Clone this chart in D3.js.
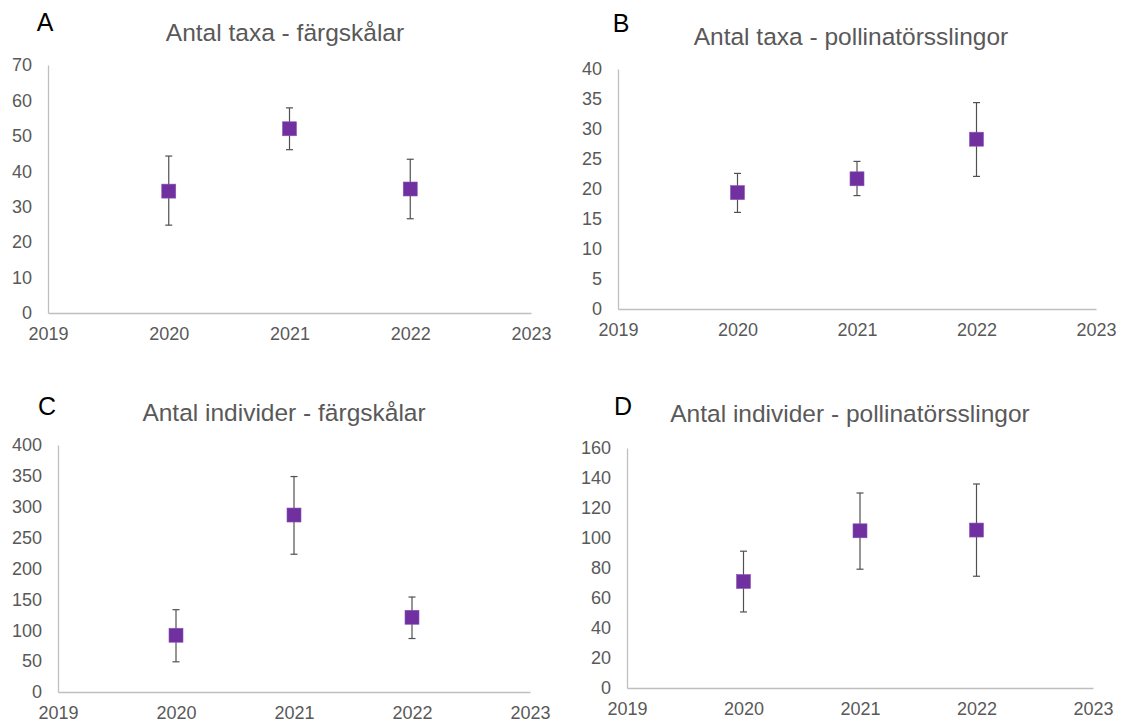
<!DOCTYPE html>
<html>
<head>
<meta charset="utf-8">
<script src="https://cdn.jsdelivr.net/npm/d3@7"></script>
<style>
  html, body { margin: 0; padding: 0; background: #fff; }
  svg { display: block; font-family: "Liberation Sans", Arial, sans-serif; }
</style>
</head>
<body>
<svg id="chart" width="1122" height="725"></svg>
<script>
// ---- data ----
const years = [2020, 2021, 2022];
const xTicks = [2019, 2020, 2021, 2022, 2023];

const taxaBowlsMean = [34.4, 52.0, 35.0];
const taxaBowlsLow  = [24.8, 46.1, 26.6];
const taxaBowlsHigh = [44.3, 57.9, 43.4];
const taxaBowlsTicks = [0, 10, 20, 30, 40, 50, 60, 70];

const taxaTransectMean = [19.4, 21.7, 28.3];
const taxaTransectLow  = [16.1, 18.9, 22.1];
const taxaTransectHigh = [22.6, 24.6, 34.4];
const taxaTransectTicks = [0, 5, 10, 15, 20, 25, 30, 35, 40];

const indBowlsMean = [91.9, 286.6, 121.0];
const indBowlsLow  = [48.9, 223.1, 86.6];
const indBowlsHigh = [133.3, 348.9, 153.8];
const indBowlsTicks = [0, 50, 100, 150, 200, 250, 300, 350, 400];

const indTransectMean = [71.0, 104.8, 105.3];
const indTransectLow  = [50.7, 79.2, 74.5];
const indTransectHigh = [91.2, 130.0, 136.0];
const indTransectTicks = [0, 20, 40, 60, 80, 100, 120, 140, 160];

const panelLetters = ["A", "B", "C", "D"];
const panelTitles = [
  "Antal taxa - färgskålar",
  "Antal taxa - pollinatörsslingor",
  "Antal individer - färgskålar",
  "Antal individer - pollinatörsslingor"
];

// ---- layout ----
const panels = [
  { letter: panelLetters[0], title: panelTitles[0], mean: taxaBowlsMean, low: taxaBowlsLow, high: taxaBowlsHigh, ticks: taxaBowlsTicks,
    box: { l: 48, r: 531, t: 65, b: 313 }, titlePos: [285, 32], letterPos: [45, 22] },
  { letter: panelLetters[1], title: panelTitles[1], mean: taxaTransectMean, low: taxaTransectLow, high: taxaTransectHigh, ticks: taxaTransectTicks,
    box: { l: 618, r: 1096, t: 69, b: 309 }, titlePos: [851, 36], letterPos: [621, 23] },
  { letter: panelLetters[2], title: panelTitles[2], mean: indBowlsMean, low: indBowlsLow, high: indBowlsHigh, ticks: indBowlsTicks,
    box: { l: 58, r: 530, t: 445, b: 692 }, titlePos: [284, 412], letterPos: [47, 406] },
  { letter: panelLetters[3], title: panelTitles[3], mean: indTransectMean, low: indTransectLow, high: indTransectHigh, ticks: indTransectTicks,
    box: { l: 627, r: 1093, t: 448, b: 688 }, titlePos: [850, 413], letterPos: [623, 406] }
];

const svg = d3.select("#chart");
const axisColor = "#BFBFBF";
const textColor = "#595959";
const markerColor = "#7030A0";
const errColor = "#505050";

panels.forEach(p => {
  const x = d3.scaleLinear().domain([xTicks[0], xTicks[xTicks.length - 1]]).range([p.box.l, p.box.r]);
  const y = d3.scaleLinear().domain([p.ticks[0], p.ticks[p.ticks.length - 1]]).range([p.box.b, p.box.t]);
  const g = svg.append("g");

  // letter
  g.append("text").attr("x", p.letterPos[0]).attr("y", p.letterPos[1])
    .attr("text-anchor", "middle").attr("dominant-baseline", "central")
    .attr("font-size", 25).attr("fill", "#000").text(p.letter);

  // title
  g.append("text").attr("x", p.titlePos[0]).attr("y", p.titlePos[1])
    .attr("text-anchor", "middle").attr("dominant-baseline", "central")
    .attr("font-size", 24.5).attr("fill", textColor).text(p.title);

  // y axis
  const yAxis = g.append("g").attr("transform", `translate(${p.box.l},0)`)
    .call(d3.axisLeft(y).tickValues(p.ticks).tickSize(0).tickPadding(16).tickFormat(d3.format("d")));
  yAxis.select(".domain").attr("stroke", axisColor).attr("stroke-width", 1.3);
  yAxis.selectAll("text").attr("font-size", 18).attr("fill", textColor).attr("font-family", "Liberation Sans, Arial, sans-serif");

  // x axis
  const xAxis = g.append("g").attr("transform", `translate(0,${p.box.b})`)
    .call(d3.axisBottom(x).tickValues(xTicks).tickSize(0).tickPadding(14).tickFormat(d3.format("d")));
  xAxis.select(".domain").attr("stroke", axisColor).attr("stroke-width", 1.3);
  xAxis.selectAll("text").attr("font-size", 18).attr("fill", textColor).attr("font-family", "Liberation Sans, Arial, sans-serif");

  // error bars
  const cap = 3.5;
  years.forEach((yr, i) => {
    const cx = x(yr);
    g.append("line").attr("x1", cx).attr("x2", cx).attr("y1", y(p.low[i])).attr("y2", y(p.high[i]))
      .attr("stroke", errColor).attr("stroke-width", 1.2);
    [p.low[i], p.high[i]].forEach(v => {
      g.append("line").attr("x1", cx - cap).attr("x2", cx + cap).attr("y1", y(v)).attr("y2", y(v))
        .attr("stroke", errColor).attr("stroke-width", 1.2);
    });
  });

  // markers
  const ms = 14;
  g.selectAll("rect.m").data(years).enter().append("rect")
    .attr("x", d => x(d) - ms / 2)
    .attr("y", (d, i) => y(p.mean[i]) - ms / 2)
    .attr("width", ms).attr("height", ms)
    .attr("fill", markerColor)
    .attr("stroke", "#8A55B5").attr("stroke-width", 0.6);
});
</script>
</body>
</html>
